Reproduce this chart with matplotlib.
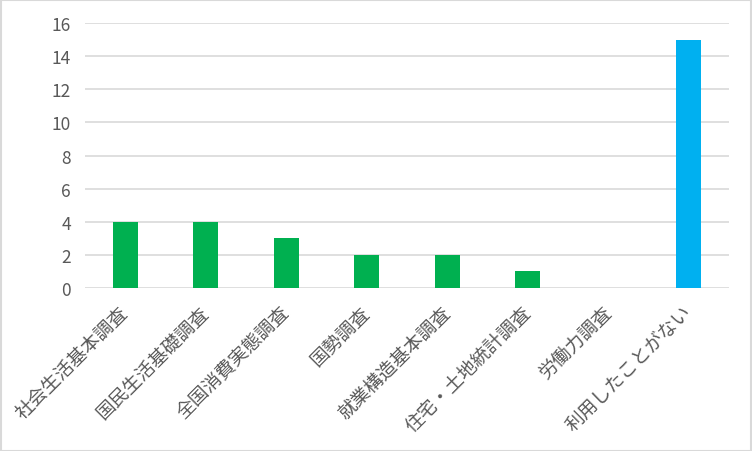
import matplotlib
matplotlib.use("Agg")
import matplotlib.pyplot as plt
from matplotlib.patches import Rectangle

plt.rcParams['font.family'] = ['Noto Sans CJK JP', 'DejaVu Sans']

categories = ["社会生活基本調査", "国民生活基礎調査", "全国消費実態調査", "国勢調査",
              "就業構造基本調査", "住宅・土地統計調査", "労働力調査", "利用したことがない"]
counts = [4, 4, 3, 2, 2, 1, 0, 15]
bar_colors = ["#00B050"] * 7 + ["#00B0F0"]

fig = plt.figure(figsize=(7.52, 4.52), dpi=100)
ax = fig.add_axes([85 / 752, 1 - 289 / 452, 644 / 752, 265 / 452])

x = list(range(len(categories)))
ax.bar(x, counts, width=0.31, color=bar_colors, zorder=3)

ax.set_ylim(0, 16)
ax.set_yticks(range(0, 17, 2))
ax.set_xlim(-0.5, len(categories) - 0.5)
ax.set_xticks(x)
ax.set_xticklabels(categories, rotation=45, ha="right", va="center", rotation_mode="anchor")
ax.tick_params(axis="both", length=0, colors="#595959", labelsize=13.5)
ax.tick_params(axis="x", pad=15)
ax.tick_params(axis="y", pad=10, labelsize=12.5)
ax.grid(axis="y", color="#D9D9D9", linewidth=1.2, zorder=0)
for s in ax.spines.values():
    s.set_visible(False)

fig.patches.append(Rectangle((0.001, 0.001), 0.998, 0.997, transform=fig.transFigure,
                             fill=False, edgecolor="#D9D9D9", linewidth=1.5))

fig.savefig("out.png", dpi=100)
